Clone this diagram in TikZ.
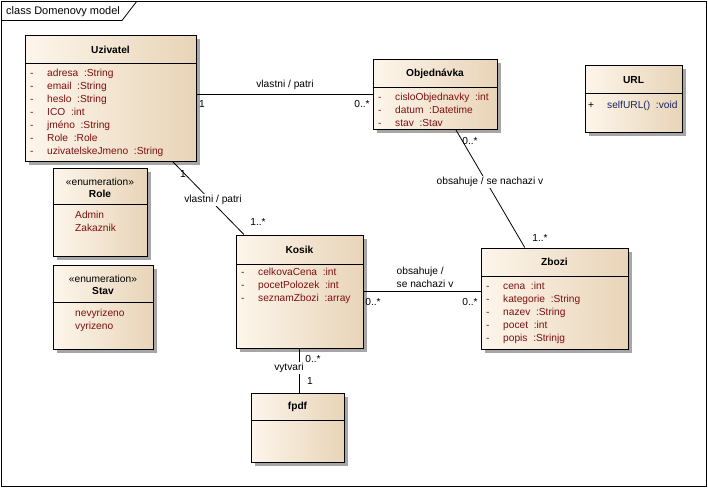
\documentclass[tikz,border=0pt]{standalone}
\usepackage{fontspec}
\setmainfont{Liberation Sans}
\usetikzlibrary{shadows}

\definecolor{boxleft}{RGB}{253,246,235}
\definecolor{boxright}{RGB}{232,212,184}
\definecolor{attrred}{RGB}{125,15,15}
\definecolor{opblue}{RGB}{25,35,95}

\begin{document}
\begin{tikzpicture}[x=1pt,y=-1pt,
    font=\fontsize{10.2}{13}\selectfont,
    classbox/.style ={rectangle, draw=black, line width=1pt, inner sep=0pt,
        left color=boxleft, right color=boxright,
        drop shadow={shadow xshift=4pt, shadow yshift=-4pt, fill=black!35, opacity=1}},
    classname/.style ={font=\fontsize{10.2}{13}\selectfont\bfseries, inner sep=0pt},
    stereo/.style ={inner sep=0pt},
    members/.style ={anchor=north west, align=left, inner sep=0pt, text=attrred},
    assoc/.style ={line width=0.8pt},
    mult/.style ={inner sep=0pt},
    assoclabel/.style ={inner sep=1.5pt, fill=white}]
   \useasboundingbox (0,0) rectangle (708,488);

   % frame
   \draw[line width=0.8pt] (1,1) rectangle (706,486);
   \draw[line width=0.8pt] (1,20.5) -- (122,20.5) -- (137,1);
   \node[anchor=west, inner sep=0pt, font=\fontsize{11}{13}\selectfont] (title) at (6,11.5) {class Domenovy model};

   % classes
   \node[classbox, minimum width=171pt, minimum height=126pt] (uz) at (110.5,98) {};
   \draw[line width=1pt] (uz.west |- 0,63) -- (uz.east |- 0,63);
   \node[classname] (uzt) at (110.5,50) {Uzivatel};
   \node[members] (uzm) at (30,68.5) {\makebox[17pt][l]{-}adresa\ \ :String\\
      \makebox[17pt][l]{-}email\ \ :String\\
      \makebox[17pt][l]{-}heslo\ \ :String\\
      \makebox[17pt][l]{-}ICO\ \ :int\\
      \makebox[17pt][l]{-}jméno\ \ :String\\
      \makebox[17pt][l]{-}Role\ \ :Role\\
      \makebox[17pt][l]{-}uzivatelskeJmeno\ \ :String};

   \node[classbox, minimum width=124pt, minimum height=70pt] (obj) at (435,94) {};
   \draw[line width=1pt] (obj.west |- 0,87) -- (obj.east |- 0,87);
   \node[classname] (objt) at (435,74) {Objednávka};
   \node[members] (objm) at (378,92.5) {\makebox[17pt][l]{-}cisloObjednavky\ \ :int\\
      \makebox[17pt][l]{-}datum\ \ :Datetime\\
      \makebox[17pt][l]{-}stav\ \ :Stav};

   \node[classbox, minimum width=97pt, minimum height=67pt] (url) at (633.5,98.5) {};
   \draw[line width=1pt] (url.west |- 0,93) -- (url.east |- 0,93);
   \node[classname] (urlt) at (633.5,80) {URL};
   \node[members, text=opblue] (urlm) at (588,101) {{\color{black}\makebox[19pt][l]{+}}selfURL()\ \ :void};

   \node[classbox, minimum width=94pt, minimum height=88pt] (role) at (100,212) {};
   \draw[line width=1pt] (role.west |- 0,204) -- (role.east |- 0,204);
   \node[stereo] (roles) at (100,182) {«enumeration»};
   \node[classname] (rolet) at (100,194) {Role};
   \node[members] (rolem) at (75,210.5) {Admin\\Zakaznik};

   \node[classbox, minimum width=100pt, minimum height=84pt] (stav) at (103,307) {};
   \draw[line width=1pt] (stav.west |- 0,302) -- (stav.east |- 0,302);
   \node[stereo] (stavs) at (103,279) {«enumeration»};
   \node[classname] (stavt) at (103,291) {Stav};
   \node[members] (stavm) at (75,308.5) {nevyrizeno\\vyrizeno};

   \node[classbox, minimum width=127pt, minimum height=113pt] (kos) at (299.5,291.5) {};
   \draw[line width=1pt] (kos.west |- 0,264) -- (kos.east |- 0,264);
   \node[classname] (kost) at (299.5,250) {Kosik};
   \node[members] (kosm) at (241,267.5) {\makebox[17pt][l]{-}celkovaCena\ \ :int\\
      \makebox[17pt][l]{-}pocetPolozek\ \ :int\\
      \makebox[17pt][l]{-}seznamZbozi\ \ :array};

   \node[classbox, minimum width=147pt, minimum height=101pt] (zb) at (554.5,298.5) {};
   \draw[line width=1pt] (zb.west |- 0,276) -- (zb.east |- 0,276);
   \node[classname] (zbt) at (554.5,262) {Zbozi};
   \node[members] (zbm) at (486,282) {\makebox[17pt][l]{-}cena\ \ :int\\
      \makebox[17pt][l]{-}kategorie\ \ :String\\
      \makebox[17pt][l]{-}nazev\ \ :String\\
      \makebox[17pt][l]{-}pocet\ \ :int\\
      \makebox[17pt][l]{-}popis\ \ :Strinjg};

   \node[classbox, minimum width=93pt, minimum height=69pt] (fp) at (297.5,427.5) {};
   \draw[line width=1pt] (fp.west |- 0,420) -- (fp.east |- 0,420);
   \node[classname] (fpt) at (297.5,407) {fpdf};

   % associations
   \draw[assoc] (obj.west -| uz.east) -- (obj.west);
   \draw[assoc] (uz) -- (kos);
   \draw[assoc] (obj) -- (zb);
   \draw[assoc] (kos.east) -- (kos.east -| zb.west);
   \draw[assoc] (fp.north -| kos.south) -- (kos.south);

   \node[mult] (l1) at (285,85) {vlastni / patri};
   \node[mult] (m1a) at (202,104) {1};
   \node[mult] (m1b) at (362,104) {0..*};
   \node[assoclabel] (l2) at (213,200) {vlastni / patri};
   \node[mult] (m2a) at (183,174) {1};
   \node[mult] (m2b) at (258,222) {1..*};
   \node[assoclabel] (l3) at (490,182) {obsahuje / se nachazi v};
   \node[mult] (m3a) at (470,141) {0..*};
   \node[mult] (m3b) at (540,238) {1..*};
   \node[mult, anchor=west, align=left] (l4) at (396.5,277.5) {obsahuje /\\se nachazi v};
   \node[mult] (m4a) at (373,302) {0..*};
   \node[mult] (m4b) at (470,302) {0..*};
   \node[assoclabel] (l5) at (289,368) {vytvari};
   \node[mult] (m5a) at (313,359) {0..*};
   \node[mult] (m5b) at (310,381) {1};
\end{tikzpicture}
\end{document}
